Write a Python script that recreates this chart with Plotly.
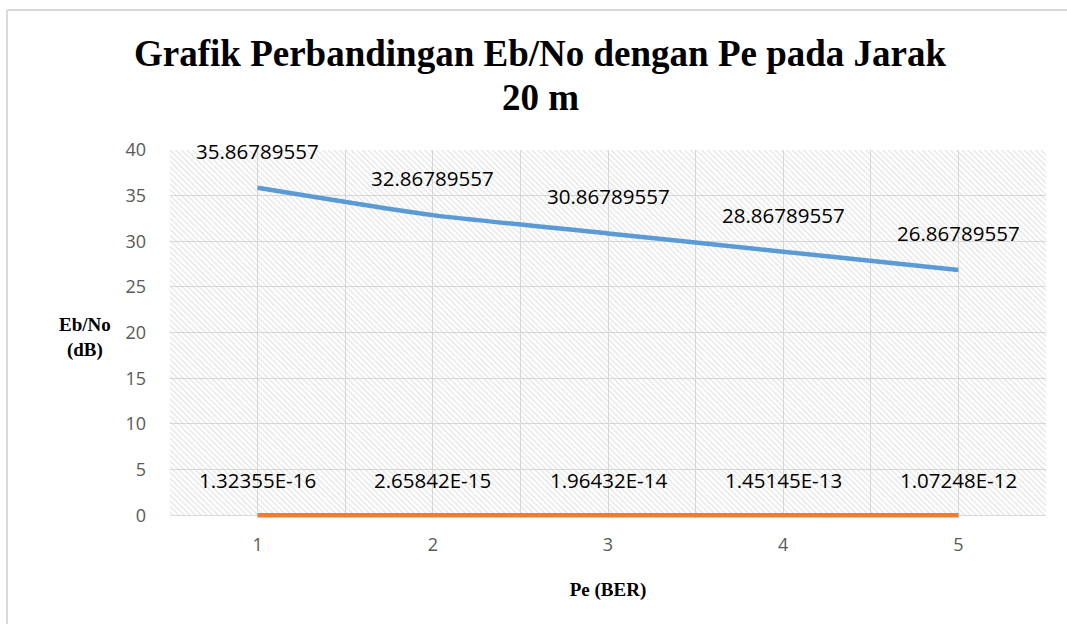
import plotly.graph_objects as go

categories = [1, 2, 3, 4, 5]
ebno_values = [35.86789557, 32.86789557, 30.86789557, 28.86789557, 26.86789557]
pe_values = [1.32355e-16, 2.65842e-15, 1.96432e-14, 1.45145e-13, 1.07248e-12]
y_ticks = [0, 5, 10, 15, 20, 25, 30, 35, 40]

title_lines = ["Grafik Perbandingan Eb/No dengan Pe pada Jarak", "20 m"]
x_title = "Pe (BER)"
y_title = "Eb/No<br>(dB)"

x_range = [categories[0] - 0.5, categories[-1] + 0.5]
y_range = [-0.3, y_ticks[-1]]

BLUE = "#5B9BD5"
ORANGE = "#ED7D31"
GRID = "#D9D9D9"
TICK = "#595959"
SANS = "Open Sans, Carlito, Calibri, sans-serif"
SERIF = "Liberation Serif, Times New Roman, serif"
LABEL_FONT = dict(family=SANS, size=20.5, color="#000000")

fig = go.Figure()

# patterned plot-area background (spans the category range, 0..40)
fig.add_trace(go.Bar(
    x=[(x_range[0] + x_range[1]) / 2], y=[y_ticks[-1] - y_ticks[0]], base=[y_ticks[0]],
    width=[x_range[1] - x_range[0]],
    marker=dict(color="rgba(0,0,0,0)", line=dict(width=0),
                pattern=dict(shape="\\", fgcolor="#C8C8C8", size=4, solidity=0.3, fillmode="overlay")),
    hoverinfo="skip", showlegend=False,
))

fig.add_trace(go.Scatter(
    x=categories, y=ebno_values, mode="lines",
    line=dict(color=BLUE, width=4.5, shape="spline", smoothing=0.6),
    showlegend=False, name="Eb/No",
))
fig.add_trace(go.Scatter(
    x=categories, y=[0] * len(categories), mode="lines",
    line=dict(color=ORANGE, width=4.5),
    showlegend=False, name="Pe",
))

for xv, yv in zip(categories, ebno_values):
    fig.add_annotation(x=xv, y=yv, text=f"{yv:.8f}", showarrow=False,
                       yshift=37, font=LABEL_FONT)
for xv, pv in zip(categories, pe_values):
    fig.add_annotation(x=xv, y=0, text=f"{pv:.5E}", showarrow=False,
                       yshift=35, font=LABEL_FONT)

# outer chart border (left and top edges visible)
border = dict(color="#D9D9D9", width=2)
fig.add_shape(type="line", xref="paper", yref="paper", x0=-0.186, x1=1.3, y0=1.3804, y1=1.3804, line=border)
fig.add_shape(type="line", xref="paper", yref="paper", x0=-0.186, x1=-0.186, y0=-0.6, y1=1.3804, line=border)

# chart title (two lines)
TITLE_FONT = dict(family=SERIF, size=37, color="#000000")
fig.add_annotation(xref="paper", yref="paper", x=0.4235, y=1.262, text=f"<b>{title_lines[0]}</b>",
                   showarrow=False, xanchor="center", yanchor="middle", font=TITLE_FONT)
fig.add_annotation(xref="paper", yref="paper", x=0.4235, y=1.143, text=f"<b>{title_lines[1]}</b>",
                   showarrow=False, xanchor="center", yanchor="middle", font=TITLE_FONT)

fig.update_layout(
    width=1067, height=624,
    margin=dict(l=170, r=21, t=150, b=106),
    paper_bgcolor="white", plot_bgcolor="white",
    xaxis=dict(range=x_range, tickvals=categories, ticktext=[str(c) for c in categories],
               showgrid=True, gridcolor=GRID, gridwidth=1,
               minor=dict(tick0=0.5, dtick=1, showgrid=True, gridcolor=GRID, gridwidth=1),
               showline=False, zeroline=False,
               ticks="", ticklabelstandoff=14,
               tickfont=dict(family=SANS, size=18, color=TICK),
               title=dict(text=f"<b>{x_title}</b>", standoff=27,
                          font=dict(family=SERIF, size=19, color="#000000"))),
    yaxis=dict(range=y_range, tickvals=y_ticks, showgrid=True, gridcolor=GRID, gridwidth=1,
               zeroline=True, zerolinecolor=GRID, zerolinewidth=1,
               showline=False, ticks="", ticklabelstandoff=23,
               tickfont=dict(family=SANS, size=18, color=TICK)),
    bargap=0,
)

fig.add_annotation(xref="paper", yref="paper", x=-0.097, y=0.49, text=f"<b>{y_title}</b>",
                   showarrow=False, xanchor="center", yanchor="middle",
                   font=dict(family=SERIF, size=19, color="#000000"))

fig.write_html("out.html", config={"displayModeBar": False},
               post_script="document.body.style.margin='0';")
